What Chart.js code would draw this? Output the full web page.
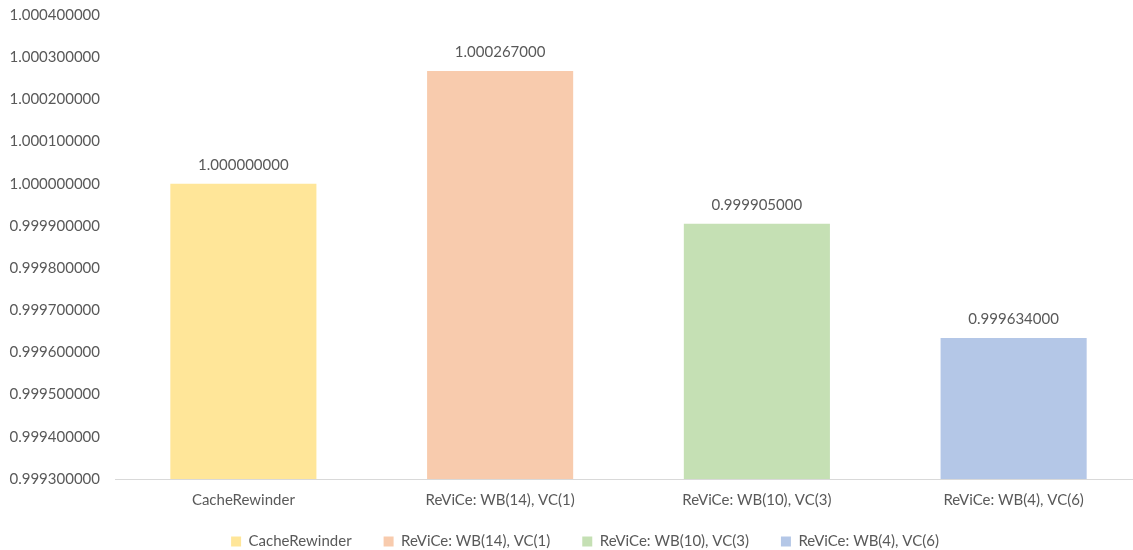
<!DOCTYPE html>
<html>
<head>
<meta charset="utf-8">
<script src="https://cdn.jsdelivr.net/npm/chart.js@4"></script>
<style>
  html, body { margin: 0; padding: 0; background: #fff; overflow: hidden; }
  #wrap { width: 1142px; height: 577px; margin-top: -9px; }
</style>
</head>
<body>
<div id="wrap"><canvas id="c"></canvas></div>
<script>
const categories = ['CacheRewinder', 'ReViCe: WB(14), VC(1)', 'ReViCe: WB(10), VC(3)', 'ReViCe: WB(4), VC(6)'];
const values = [1.000000000, 1.000267000, 0.999905000, 0.999634000];
const barColors = ['#FFE699', '#F8CBAD', '#C5E0B4', '#B4C7E7'];
const yMin = 0.9993;
const yMax = 1.0004;
const yStep = 0.0001;

const FONT = 'Lato, "Open Sans", sans-serif';
const SIZE = 15;
const TEXT = '#595959';

// Writes each bar's value above it
const valueLabels = {
  id: 'valueLabels',
  afterDatasetsDraw(chart) {
    const ctx = chart.ctx;
    ctx.save();
    ctx.font = SIZE + 'px ' + FONT;
    ctx.fillStyle = TEXT;
    ctx.textAlign = 'center';
    ctx.textBaseline = 'middle';
    chart.data.datasets.forEach((ds, di) => {
      const meta = chart.getDatasetMeta(di);
      meta.data.forEach((bar, i) => {
        if (ds.data[i] == null) return;
        ctx.fillText(ds.data[i].toFixed(9), bar.x, bar.y - 19);
      });
    });
    ctx.restore();
  }
};

// Moves the legend row a little right and up, closer to the axis labels
const legendShift = {
  id: 'legendShift',
  afterLayout(chart) {
    const lg = chart.legend;
    if (lg) {
      lg.left += 14;
      lg.right += 14;
      lg.top -= 9;
      lg.bottom -= 9;
    }
  }
};

// One dataset per category so the legend lists each bar
const datasets = categories.map((name, i) => ({
  label: name,
  data: categories.map((_, j) => (j === i ? values[i] : null)),
  backgroundColor: barColors[i],
  borderWidth: 0,
  categoryPercentage: 1,
  barPercentage: 0.569,
  skipNull: true
}));

new Chart(document.getElementById('c'), {
  type: 'bar',
  data: { labels: categories, datasets },
  options: {
    responsive: true,
    maintainAspectRatio: false,
    animation: false,
    layout: { autoPadding: false, padding: { top: 5, left: 0, right: 0, bottom: 0 } },
    plugins: {
      tooltip: { enabled: false },
      legend: {
        position: 'bottom',
        labels: {
          font: { family: FONT, size: SIZE },
          color: TEXT,
          boxWidth: 10,
          boxHeight: 10,
          padding: 32,
          generateLabels(chart) {
            return chart.data.datasets.map((ds, i) => ({
              text: ds.label,
              fillStyle: ds.backgroundColor,
              strokeStyle: ds.backgroundColor,
              lineWidth: 0,
              fontColor: TEXT,
              datasetIndex: i
            }));
          }
        }
      }
    },
    scales: {
      x: {
        grid: { display: false, drawTicks: false },
        border: { color: '#D9D9D9', width: 1 },
        ticks: { font: { family: FONT, size: SIZE }, color: TEXT, padding: 12, maxRotation: 0 },
        afterFit: s => { s.height = 32; }
      },
      y: {
        min: yMin,
        max: yMax,
        grid: { display: false, drawTicks: false },
        border: { display: false },
        ticks: {
          stepSize: yStep,
          font: { family: FONT, size: SIZE },
          color: TEXT,
          padding: 15,
          callback: v => v.toFixed(9)
        },
        afterFit: s => { s.width = 115; }
      }
    }
  },
  plugins: [valueLabels, legendShift]
});
</script>
</body>
</html>
